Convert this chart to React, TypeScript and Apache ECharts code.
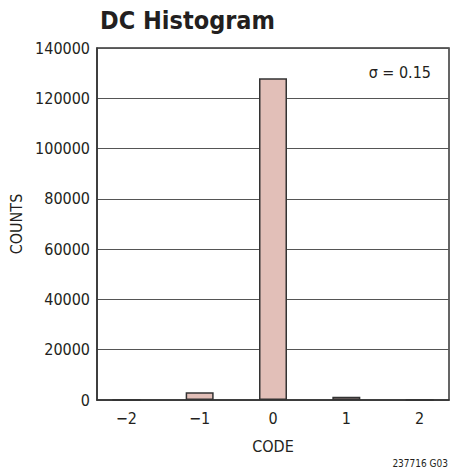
import React, { useEffect, useRef } from "react";
import * as echarts from "echarts";

const codes = [-2, -1, 0, 1, 2];
const counts = [0, 3100, 128000, 1300, 0];
const codeLabels: Record<string, string> = { "-2": "−2", "-1": "−1", "0": "0", "1": "1", "2": "2" };
const yTicks = { min: 0, max: 140000, interval: 20000 };

const FONT = "'Liberation Sans Narrow', 'DejaVu Sans Condensed', 'Roboto Condensed', Arial, sans-serif";

export default function App() {
  const ref = useRef<HTMLDivElement>(null);
  useEffect(() => {
    if (!ref.current) return;
    const chart = echarts.init(ref.current, null, { renderer: "svg" });
    chart.setOption({
      animation: false,
      backgroundColor: "#ffffff",
      textStyle: { fontFamily: FONT },
      title: {
        text: "DC Histogram",
        left: 95,
        top: 3,
        textStyle: { fontFamily: FONT, fontSize: 25, fontWeight: "bold", color: "#231f20" },
      },
      grid: {
        left: 97,
        right: 9,
        top: 48,
        bottom: 72,
        show: true,
        borderColor: "#333",
        borderWidth: 1.5,
        containLabel: false,
      },
      xAxis: {
        type: "value",
        min: -2.4,
        max: 2.4,
        interval: 0.2,
        axisLine: { show: true, onZero: false, lineStyle: { color: "#333", width: 1.5 } },
        axisTick: { show: false },
        splitLine: { show: false },
        axisLabel: {
          color: "#231f20",
          fontSize: 16,
          fontFamily: FONT,
          margin: 10,
          hideOverlap: false,
          formatter: (v: number) => {
            const r = Math.round(v);
            if (Math.abs(v - r) > 1e-6) return "";
            return codeLabels[String(r)] ?? "";
          },
        },
        name: "CODE",
        nameLocation: "middle",
        nameGap: 38,
        nameTextStyle: { fontFamily: FONT, fontSize: 16, color: "#231f20" },
      },
      yAxis: {
        type: "value",
        min: yTicks.min,
        max: yTicks.max,
        interval: yTicks.interval,
        axisLine: { show: true, onZero: false, lineStyle: { color: "#333", width: 1.5 } },
        axisTick: { show: false },
        splitLine: { show: true, lineStyle: { color: "#555", width: 1 } },
        axisLabel: { color: "#231f20", fontSize: 16, fontFamily: FONT, margin: 7, formatter: (v: number) => String(v) },
        name: "COUNTS",
        nameLocation: "middle",
        nameGap: 70,
        nameTextStyle: { fontFamily: FONT, fontSize: 16, color: "#231f20" },
      },
      series: [
        {
          type: "bar",
          data: codes.map((c, i) => [c, counts[i]]),
          barWidth: 28,
          itemStyle: { color: "#e2bfb8", borderColor: "#333", borderWidth: 1.5 },
        },
      ],
      graphic: [
        {
          type: "text",
          right: 27,
          top: 64,
          style: { text: "σ = 0.15", font: `16px ${FONT}`, fill: "#231f20" },
        },
        {
          type: "text",
          right: 10,
          top: 458,
          style: { text: "237716 G03", font: `10px ${FONT}`, fill: "#231f20" },
        },
      ],
    });
    return () => chart.dispose();
  }, []);
  return <div ref={ref} style={{ position: "fixed", left: 0, top: 0, width: 458, height: 472 }} />;
}
